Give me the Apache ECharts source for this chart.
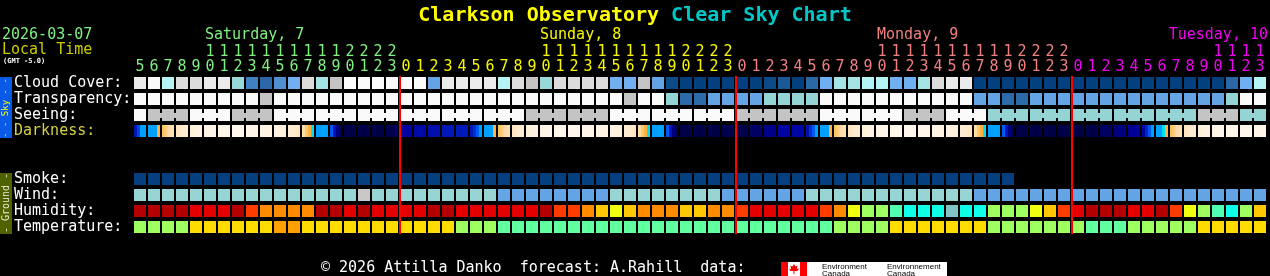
<!DOCTYPE html>
<html><head><meta charset="utf-8">
<script src="https://cdn.jsdelivr.net/npm/echarts@6/dist/echarts.min.js"></script>
<style>html,body{margin:0;padding:0;background:#000;}#c{width:1270px;height:276px;}</style>
</head><body><div id="c"></div>
<script>
// ---------- DATA ----------
const hours = [5,6,7,8,9,10,11,12,13,14,15,16,17,18,19,20,21,22,23,
  0,1,2,3,4,5,6,7,8,9,10,11,12,13,14,15,16,17,18,19,20,21,22,23,
  0,1,2,3,4,5,6,7,8,9,10,11,12,13,14,15,16,17,18,19,20,21,22,23,
  0,1,2,3,4,5,6,7,8,9,10,11,12,13];
const dayNames = ['Saturday, 7','Sunday, 8','Monday, 9','Tuesday, 10'];
const rowNames = ['Cloud Cover:','Transparency:','Seeing:','Darkness:','','','Smoke:','Wind:','Humidity:','Temperature:'];

// cloud cover, % (estimated)
const cloudCover = [90,100,70,85,85,90,90,60,20,10,30,50,85,65,80,100,100,100,100,
  100,100,40,90,90,90,90,70,85,80,60,85,85,85,85,50,50,80,40,5,0,0,0,0,
  0,0,5,8,0,10,50,65,65,70,70,50,50,65,85,90,90,0,0,0,0,0,0,0,
  0,0,0,0,0,0,0,0,0,0,0,10,50,70];
// transparency class: 0 too cloudy .. 5 transparent
const transparency = [0,0,0,0,0,0,0,0,0,1,0,0,0,0,0,0,0,0,0,
  0,0,0,0,0,0,0,0,0,0,0,0,0,0,0,0,1,0,0,2,4,4,3,3,
  3,3,2,2,2,2,0,0,0,0,0,0,0,0,0,0,0,3,3,4,4,3,3,3,
  3,3,3,3,3,3,3,3,3,3,3,2,0,0];
// seeing class: 0 too cloudy, 1 bad, 2 poor
const seeing = [0,1,1,1,0,0,0,1,1,1,0,0,0,0,0,0,0,0,0,
  0,0,0,0,0,0,0,0,0,1,1,1,1,1,1,0,0,0,0,0,0,0,0,0,
  1,1,1,1,1,1,0,0,0,0,0,0,1,1,1,0,0,0,2,2,2,2,2,2,
  2,2,2,2,2,2,2,2,2,1,1,1,2,2];
// darkness: limiting magnitude, 4 samples per hour
const darkness = [
  [2.6,1.5,0,0],[0,0,0,-1.5],[-1.9,-2.3,-2.6,-2.8],[-2.9,-3.0,-3.1,-3.2],[-3.3,-3.4,-3.5,-3.5],
  [-3.6,-3.6,-3.7,-3.7],[-3.8,-3.8,-3.9,-3.9],[-4,-4,-4,-4],[-3.9,-3.9,-3.8,-3.8],[-3.7,-3.7,-3.6,-3.6],
  [-3.5,-3.5,-3.4,-3.3],[-3.2,-3.1,-3.0,-2.9],[-2.6,-2.0,-1.5,-1.0],[0,0,0,0],[1.0,2.5,4.5,6.0],
  [6.5,6.5,6.5,6.5],[6.5,6.5,6.5,6.5],[6.5,6.5,6.5,6.5],[6.4,6.3,6.0,5.2],
  [3.5,3.5,3.5,3.5],[3.0,3.0,3.0,3.0],[2.8,2.8,2.8,2.8],[2.5,2.5,2.5,2.5],[2.5,2.5,2.5,2.5],
  [2.5,2.0,1.0,0],[0,0,0,-1.5],[-1.9,-2.3,-2.6,-2.8],[-2.9,-3.0,-3.1,-3.2],[-3.3,-3.4,-3.5,-3.5],
  [-3.6,-3.6,-3.7,-3.7],[-3.8,-3.8,-3.9,-3.9],[-4,-4,-4,-4],[-3.9,-3.9,-3.8,-3.8],[-3.7,-3.7,-3.6,-3.6],
  [-3.5,-3.5,-3.4,-3.3],[-3.2,-3.1,-3.0,-2.9],[-2.6,-2.0,-1.5,-1.0],[0,0,0,0],[1.0,2.5,4.5,6.0],
  [6.5,6.5,6.5,6.5],[6.5,6.5,6.5,6.5],[6.5,6.5,6.5,6.5],[6.2,6.2,6.2,6.2],
  [6.2,6.2,6.2,6.2],[5.3,5.3,5.3,5.3],[4.2,4.2,4.2,4.2],[3.4,3.4,3.4,3.4],[3.1,3.1,3.1,3.1],
  [2.8,2.0,1.0,0],[0,0,0,-1.5],[-1.9,-2.3,-2.6,-2.8],[-2.9,-3.0,-3.1,-3.2],[-3.3,-3.4,-3.5,-3.5],
  [-3.6,-3.6,-3.7,-3.7],[-3.8,-3.8,-3.9,-3.9],[-4,-4,-4,-4],[-3.9,-3.9,-3.8,-3.8],[-3.7,-3.7,-3.6,-3.6],
  [-3.5,-3.5,-3.4,-3.3],[-3.2,-3.1,-3.0,-2.9],[-2.6,-2.0,-1.5,-1.0],[0,0,0,0],[1.0,2.5,4.5,6.0],
  [6.5,6.5,6.5,6.5],[6.5,6.5,6.5,6.5],[6.5,6.5,6.5,6.5],[6.5,6.5,6.5,6.5],
  [6.5,6.5,6.5,6.5],[6.4,6.4,6.4,6.4],[5.5,5.5,5.5,5.5],[4.5,4.5,4.5,4.5],[3.8,3.8,3.8,3.8],
  [3.4,2.2,1.0,0],[0,0,-1.0,-1.5],[-1.9,-2.3,-2.6,-2.8],[-2.9,-3.0,-3.1,-3.2],[-3.3,-3.4,-3.5,-3.5],
  [-3.6,-3.6,-3.7,-3.7],[-3.8,-3.8,-3.9,-3.9],[-4,-4,-4,-4],[-3.9,-3.9,-3.8,-3.8]
];
// smoke class (0 = none), null = no forecast
const smoke = [0,0,0,0,0,0,0,0,0,0,0,0,0,0,0,0,0,0,0,
  0,0,0,0,0,0,0,0,0,0,0,0,0,0,0,0,0,0,0,0,0,0,0,0,
  0,0,0,0,0,0,0,0,0,0,0,0,0,0,0,0,0,0,0,0,null,null,null,null,
  null,null,null,null,null,null,null,null,null,null,null,null,null,null];
// wind class: 3 = 12-16 mph, 4 = 17-28 mph, 5 = 29-45 mph
const wind = [4,4,4,4,4,4,4,4,4,4,4,4,4,4,4,4,5,4,4,
  4,4,4,4,4,4,4,3,3,3,3,3,3,3,3,4,4,4,4,4,4,4,4,3,
  3,3,3,3,3,4,4,4,4,4,4,4,4,4,4,4,4,3,3,3,3,3,3,3,
  3,3,3,3,3,3,3,3,3,3,3,3,3,3];
// relative humidity, %
const humidity = [100,100,100,100,95,95,95,100,90,85,85,85,85,100,100,95,100,95,95,
  95,95,100,100,95,95,95,95,95,95,100,90,90,85,80,75,80,85,85,85,80,80,85,85,
  90,95,95,95,95,95,90,85,75,70,70,65,60,60,60,55,60,60,70,70,70,75,80,90,
  95,100,100,100,95,95,100,90,75,70,65,60,70,80];
// temperature, deg C
const temperature = [3,3,3,3,6,6,6,6,6,6,9,9,6,6,6,6,6,6,6,
  6,6,6,6,3,3,3,0,0,0,0,0,0,0,0,0,0,0,0,0,0,0,0,0,
  0,0,0,0,0,0,0,3,3,3,3,6,6,6,6,6,6,6,3,3,3,3,3,3,
  3,0,0,0,3,3,3,3,3,6,6,6,6,6];

// ---------- STYLE ----------
const FONT = '"DejaVu Sans Mono", "Liberation Mono", monospace';
const dayColors = ['#80f080','#f8f800','#f08080','#f000f0'];
const cloudColors = {0:'#043f80',5:'#0c4a8a',8:'#1c5898',10:'#2c68a8',20:'#4080c0',30:'#5090d0',40:'#64a4e4',
  50:'#70b0f0',60:'#98d8d8',65:'#a4e4e4',70:'#b4f4f4',80:'#c4c4c4',85:'#dcdcdc',90:'#ebebeb',100:'#fafafa'};
const classColors = ['#fafafa','#c4c4c4','#94d4d4','#64a4e4','#2c6aaa','#043f80'];
const smokeColors = ['#053f80'];
const windColors = {3:'#64a4e4',4:'#98d4d4',5:'#c8c8c8'};
const humColors = {100:'#b40000',95:'#e40000',90:'#ff3c00',85:'#ff8c00',80:'#ffc800',75:'#f0ff10',
  70:'#a0ff60',65:'#50ffb0',60:'#10ffe8',55:'#80c4c4'};
const tempColors = {0:'#60ffa0',3:'#a0ff60',6:'#ffdc00',9:'#ffa000'};
const darkStops = [[-4.0,'#fff7ec'],[-3.6,'#fff4e4'],[-3.3,'#ffefd8'],[-3.0,'#ffe9c8'],[-2.6,'#ffdcaa'],
  [-2.0,'#ffc868'],[-1.5,'#ffb040'],[-1.0,'#00e0f0'],[0,'#00a0ff'],[1.0,'#0058f0'],[2.0,'#0030d0'],
  [2.5,'#0018b8'],[3.0,'#0008a8'],[3.5,'#0000a0'],[4.5,'#000080'],[5.5,'#000060'],[6.0,'#000050'],[6.5,'#000048']];

function hex2rgb(h){return [parseInt(h.substr(1,2),16),parseInt(h.substr(3,2),16),parseInt(h.substr(5,2),16)];}
function darkColor(v){
  if (v <= darkStops[0][0]) return darkStops[0][1];
  for (let k=1;k<darkStops.length;k++){
    if (v <= darkStops[k][0]){
      const a=darkStops[k-1], b=darkStops[k];
      const t=(v-a[0])/(b[0]-a[0]);
      const ca=hex2rgb(a[1]), cb=hex2rgb(b[1]);
      return 'rgb('+ca.map((c,j)=>Math.round(c+(cb[j]-c)*t)).join(',')+')';
    }
  }
  return darkStops[darkStops.length-1][1];
}

// day index per column
const dayOf = []; let d = 0;
hours.forEach((h,i)=>{ if (i>0 && h===0) d++; dayOf.push(d); });
const cats = hours.map((h,i)=>String(i));

// generic cells
const cells = [];
function addRow(arr,row,pal){ arr.forEach((v,i)=>{ if (v!==null && v!==undefined) cells.push({x:i,row:row,color:pal[v]}); }); }
addRow(cloudCover,0,cloudColors);
addRow(transparency,1,classColors);
addRow(smoke,6,smokeColors);
addRow(wind,7,windColors);
addRow(humidity,8,humColors);
addRow(temperature,9,tempColors);

const midnights = [];
hours.forEach((h,i)=>{ if (h===0) midnights.push([i,0]); });

function cellRender(params, api){
  const it = cells[params.dataIndex];
  const c = api.coord([it.x, it.row]);
  return {type:'rect', shape:{x:c[0]-6,y:c[1]-6,width:12,height:12}, style:{fill:it.color}};
}
function seeingRender(params, api){
  const i = params.dataIndex;
  const c = api.coord([i,2]);
  const col = classColors[seeing[i]];
  const children = [{type:'rect', shape:{x:c[0]-6,y:c[1]-6,width:12,height:12}, style:{fill:col}}];
  if (i+1<hours.length && hours[i+1]===hours[i]+1 && Math.floor(hours[i+1]/3)===Math.floor(hours[i]/3)){
    children.push({type:'rect', shape:{x:c[0]+6,y:c[1]-2,width:2,height:5}, style:{fill:col}});
  }
  return {type:'group', children:children};
}
function darkRender(params, api){
  const i = params.dataIndex;
  const c = api.coord([i,3]);
  const vals = darkness[i];
  return {type:'group', children: vals.map((v,k)=>({type:'rect',
    shape:{x:c[0]-6+3*k,y:c[1]-6,width:3,height:12}, style:{fill:darkColor(v)}}))};
}
function lineRender(params, api){
  const it = midnights[params.dataIndex];
  const a = api.coord([it[0],0]), b = api.coord([it[0],9]);
  return {type:'rect', shape:{x:a[0]-7,y:a[1]-7,width:2,height:b[1]-a[1]+14}, style:{fill:'#ff0000'}};
}

const chart = echarts.init(document.getElementById('c'), null, {renderer:'canvas'});
const txt = (text,x,y,fill,font,align) => ({type:'text', x:x, y:y, silent:true,
  style:{text:text, fill:fill, font:font, textAlign:align||'left', align:align||'left', textVerticalAlign:'middle', verticalAlign:'middle'}});

chart.setOption({
  backgroundColor:'#000000',
  animation:false,
  title:{text:'{a|Clarkson Observatory} {b|Clear Sky Chart}', left:'center', top:1,
    textStyle:{fontFamily:FONT,fontSize:20,fontWeight:'bold',color:'#ffff00',
      rich:{a:{color:'#ffff00',fontFamily:FONT,fontSize:20,fontWeight:'bold'},
            b:{color:'#00c8c8',fontFamily:FONT,fontSize:20,fontWeight:'bold'}}}},
  grid:{left:133, top:75, width:1134, height:160, containLabel:false},
  xAxis:[
    {type:'category', data:cats, position:'top', boundaryGap:true,
     axisLine:{show:false}, axisTick:{show:false}, splitLine:{show:false},
     axisLabel:{interval:0, margin:0, fontFamily:FONT, fontSize:15,
       formatter:(v)=>String(hours[+v]%10), color:(v)=>dayColors[dayOf[+v]]}},
    {type:'category', data:cats, position:'top', offset:15, boundaryGap:true,
     axisLine:{show:false}, axisTick:{show:false}, splitLine:{show:false},
     axisLabel:{interval:0, margin:0, fontFamily:FONT, fontSize:15,
       formatter:(v)=>hours[+v]>=10?String(Math.floor(hours[+v]/10)):'', color:(v)=>dayColors[dayOf[+v]]}}
  ],
  yAxis:{type:'category', data:rowNames, inverse:true,
    axisLine:{show:false}, axisTick:{show:false}, splitLine:{show:false},
    axisLabel:{interval:0, align:'left', margin:119, fontFamily:FONT, fontSize:15,
      color:(v)=>v==='Darkness:'?'#d4d040':'#ffffff'}},
  series:[
    {type:'custom', xAxisIndex:0, renderItem:cellRender, data:cells.map(c=>[c.x,c.row]), silent:true, clip:false},
    {type:'custom', xAxisIndex:0, renderItem:seeingRender, data:seeing.map((v,i)=>[i,2]), silent:true, clip:false},
    {type:'custom', xAxisIndex:0, renderItem:darkRender, data:darkness.map((v,i)=>[i,3]), silent:true, clip:false},
    {type:'custom', xAxisIndex:0, renderItem:lineRender, data:midnights, silent:true, clip:false, z:10}
  ],
  graphic:{elements:[
    txt('2026-03-07',2,35,dayColors[0],'15px '+FONT),
    txt('Local Time',2,50,'#cccc00','15px '+FONT),
    txt('(GMT -5.0)',3,61,'#ffffff','bold 7px '+FONT),
    txt(dayNames[0],205,35,dayColors[0],'15px '+FONT),
    txt(dayNames[1],540,35,dayColors[1],'15px '+FONT),
    txt(dayNames[2],877,35,dayColors[2],'15px '+FONT),
    txt(dayNames[3],1268,35,dayColors[3],'15px '+FONT,'right'),
    {type:'rect', shape:{x:0,y:77,width:12,height:61}, style:{fill:'#0a5ae8'}, silent:true},
    {type:'text', x:6, y:108, rotation:Math.PI/2, silent:true,
      style:{text:'- - Sky - -', fill:'#ffff00', font:'9px '+FONT, textAlign:'center', align:'center', textVerticalAlign:'middle', verticalAlign:'middle'}},
    {type:'rect', shape:{x:0,y:173,width:12,height:61}, style:{fill:'#4e6200'}, silent:true},
    {type:'text', x:6, y:203, rotation:Math.PI/2, silent:true,
      style:{text:'- Ground -', fill:'#e8e8d0', font:'10px '+FONT, textAlign:'center', align:'center', textVerticalAlign:'middle', verticalAlign:'middle'}},
    txt('\u00a9 2026 Attilla Danko  forecast: A.Rahill  data:',321,268,'#ffffff','15px '+FONT),
    {type:'rect', shape:{x:781,y:262,width:166,height:14}, style:{fill:'#ffffff'}, silent:true},
    {type:'rect', shape:{x:781,y:262,width:7,height:14}, style:{fill:'#ff0000'}, silent:true},
    {type:'rect', shape:{x:800,y:262,width:7,height:14}, style:{fill:'#ff0000'}, silent:true},
    {type:'polygon', shape:{points:[[794,264],[795.5,266.5],[797.5,265.5],[797,269],[799,268.5],[797.5,271],[794.5,271],[794.5,274],[793.5,274],[793.5,271],[790.5,271],[789,268.5],[791,269],[790.5,265.5],[792.5,266.5]]}, style:{fill:'#ff0000'}, silent:true},
    txt('Environment',822,267,'#000000','8px "Liberation Sans", sans-serif'),
    txt('Canada',822,273.5,'#000000','8px "Liberation Sans", sans-serif'),
    txt('Environnement',887,267,'#000000','8px "Liberation Sans", sans-serif'),
    txt('Canada',887,273.5,'#000000','8px "Liberation Sans", sans-serif')
  ]}
});
</script></body></html>
